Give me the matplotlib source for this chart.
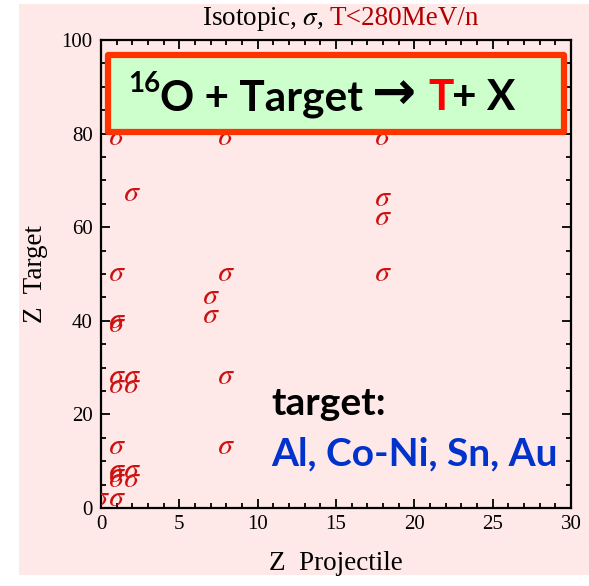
import matplotlib
matplotlib.use("Agg")
import matplotlib.pyplot as plt
from matplotlib.patches import Rectangle
from matplotlib.ticker import MultipleLocator
from matplotlib.transforms import IdentityTransform

plt.rcParams["mathtext.fontset"] = "stix"

# Measured isotopic cross sections: projectile charge vs target charge
proj_z = [0, 1, 1, 1, 1, 1, 1, 1, 1, 1, 1, 1,
          2, 2, 2, 2, 2, 7, 7, 8, 8, 8, 8, 18, 18, 18, 18]
target_z = [2, 2, 6, 7, 8, 13, 26, 28, 39, 40, 50, 79,
            6, 8, 26, 28, 67, 41, 45, 13, 28, 50, 79, 50, 62, 66, 79]

x_ticks = [0, 5, 10, 15, 20, 25, 30]
y_ticks = [0, 20, 40, 60, 80, 100]

title_main = r"Isotopic, $\sigma$,"
title_energy = "T<280MeV/n"
reaction = ["16", "O + Target", "\u2192", "T", "+ X"]
target_head = "target:"
target_list = "Al, Co-Ni, Sn, Au"

W, H = 589, 586
fig = plt.figure(figsize=(W / 100, H / 100), dpi=100, facecolor="white")

# slide-like pink panel behind the chart
fig.patches.append(Rectangle((19 / W, (H - 575) / H), (W - 19) / W, (575 - 4) / H,
                             transform=fig.transFigure, facecolor="#FFE8E8",
                             edgecolor="none", zorder=-5))

ax = fig.add_axes([101 / W, (H - 508) / H, 470 / W, 468 / H])
ax.set_facecolor("none")
ax.scatter(proj_z, target_z, marker=r"$\sigma$", s=115, color="#CC1111",
           linewidths=0, zorder=3)

ax.set_xlim(0, 30)
ax.set_ylim(0, 100)
ax.set_xticks(x_ticks)
ax.set_yticks(y_ticks)
ax.xaxis.set_minor_locator(MultipleLocator(1))
ax.yaxis.set_minor_locator(MultipleLocator(5))
ax.tick_params(which="both", direction="in", top=True, right=True,
               color="black", width=1.3)
ax.tick_params(which="major", length=6.5)
ax.tick_params(which="minor", length=3.5)
ax.tick_params(axis="x", pad=5)
ax.tick_params(axis="y", pad=6)
for lab in ax.get_xticklabels() + ax.get_yticklabels():
    lab.set_fontfamily("Liberation Serif")
    lab.set_fontsize(15)
for sp in ax.spines.values():
    sp.set_linewidth(1.6)
    sp.set_color("black")

ax.set_xlabel("Z  Projectile", family="Liberation Serif", fontsize=19.5, labelpad=12)
ax.set_ylabel("Z  Target", family="Liberation Serif", fontsize=19.5, labelpad=10)

# reaction banner
ax.add_patch(Rectangle((0.0149, 0.803), 0.970, 0.165, transform=ax.transAxes,
                       facecolor="#CCFFCC", edgecolor="#FF3300", linewidth=4.5,
                       joinstyle="round", zorder=4))

px = IdentityTransform()
bold = dict(family=["Lato", "DejaVu Sans"], fontweight="bold", zorder=5,
            va="baseline", ha="left")
base_main = H - 110
fig.text(128, H - 92, reaction[0], transform=px, fontsize=20, color="black", **bold)
fig.text(160, base_main, reaction[1], transform=px, fontsize=30.5, color="black", **bold)
fig.text(372, base_main + 1, reaction[2], transform=px, fontsize=38, color="black",
         **{**bold, "family": ["DejaVu Sans"]})
fig.text(428, base_main, reaction[3], transform=px, fontsize=30.5, color="#FF0000", **bold)
fig.text(452, base_main, reaction[4], transform=px, fontsize=30.5, color="black", **bold)

fig.text(271, H - 415, target_head, transform=px, fontsize=28, color="black", **bold)
fig.text(271, H - 465, target_list, transform=px, fontsize=28, color="#0033CC", **bold)

# two-colour title, centred over the axes
serif = dict(family="Liberation Serif", fontsize=19.5, va="baseline", ha="left")
t1 = fig.text(0, 0, title_main, transform=px, color="black", **serif)
t2 = fig.text(0, 0, title_energy, transform=px, color="#B00000", **serif)
fig.canvas.draw()
r = fig.canvas.get_renderer()
w1 = t1.get_window_extent(r).width
w2 = t2.get_window_extent(r).width
gap = 6
x0 = 340 - (w1 + gap + w2) / 2
t1.set_position((x0, H - 25))
t2.set_position((x0 + w1 + gap, H - 25))

fig.savefig("out.png", dpi=100, facecolor="white")
